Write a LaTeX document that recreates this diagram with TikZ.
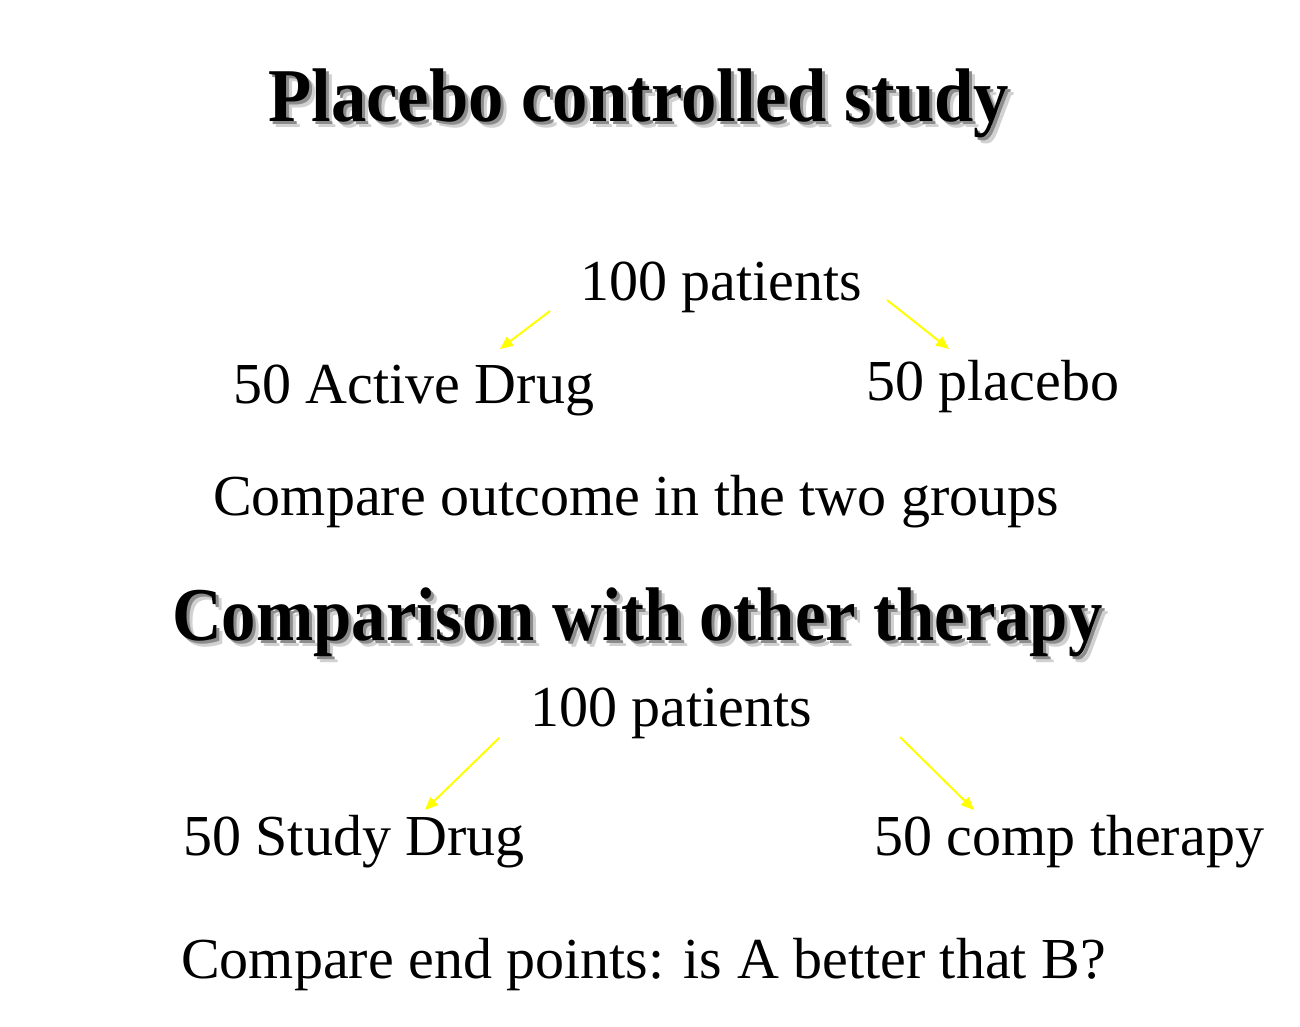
\documentclass[tikz,border=0pt]{standalone}
\usepackage{fontspec}
\setmainfont{Liberation Serif}
\usetikzlibrary{arrows.meta}
\tikzset{
  body/.style={anchor=base west, inner sep=0pt, font=\fontsize{58}{62}\selectfont},
  ttl/.style={anchor=base west, inner sep=0pt, font=\bfseries\fontsize{76}{80}\selectfont},
  yarrow/.style={draw={rgb,255:red,255;green,255;blue,0}, line width=2pt,
    -{Triangle[length=13pt,width=11pt]}}
}
\newcommand{\shadowtxt}[2]{\leavevmode
  \rlap{\kern6pt\raisebox{-6pt}{\color{black!18}\scalebox{#1}[1]{#2}}}%
  \rlap{\kern3pt\raisebox{-3pt}{\color{black!45}\scalebox{#1}[1]{#2}}}%
  \scalebox{#1}[1]{#2}}
\begin{document}
\begin{tikzpicture}[x=1pt,y=-1pt]
\useasboundingbox[fill=white] (0,0) rectangle (1300,1027);
% title 1
\node[ttl] (t1) at (268,122) {\shadowtxt{0.93}{Placebo controlled study}};
% first tree
\node[body] (p1) at (580,300) {100 patients};
\node[body] (a1) at (233,403) {50 Active Drug};
\node[body] (b1) at (866,400) {50 placebo};
\node[body] (c1) at (213,515) {Compare outcome in the two groups};
\coordinate (p1l) at (550,311);
\coordinate (a1t) at (500,349);
\coordinate (p1r) at (887,300);
\coordinate (b1t) at (949,349);
\draw[yarrow] (p1l) -- (a1t);
\draw[yarrow] (p1r) -- (b1t);
% title 2
\node[ttl] (t2) at (172,640) {\shadowtxt{0.905}{Comparison with other therapy}};
% second tree
\node[body] (p2) at (530,726) {100 patients};
\node[body] (a2) at (183,855) {50 Study Drug};
\node[body] (b2) at (874,855) {50 comp therapy};
\node[body] (c2) at (181,978) {Compare end points: is A better that B?};
\coordinate (p2l) at (499,738);
\coordinate (a2t) at (425,810);
\coordinate (p2r) at (900,737);
\coordinate (b2t) at (974,810);
\draw[yarrow] (p2l) -- (a2t);
\draw[yarrow] (p2r) -- (b2t);
\end{tikzpicture}
\end{document}
